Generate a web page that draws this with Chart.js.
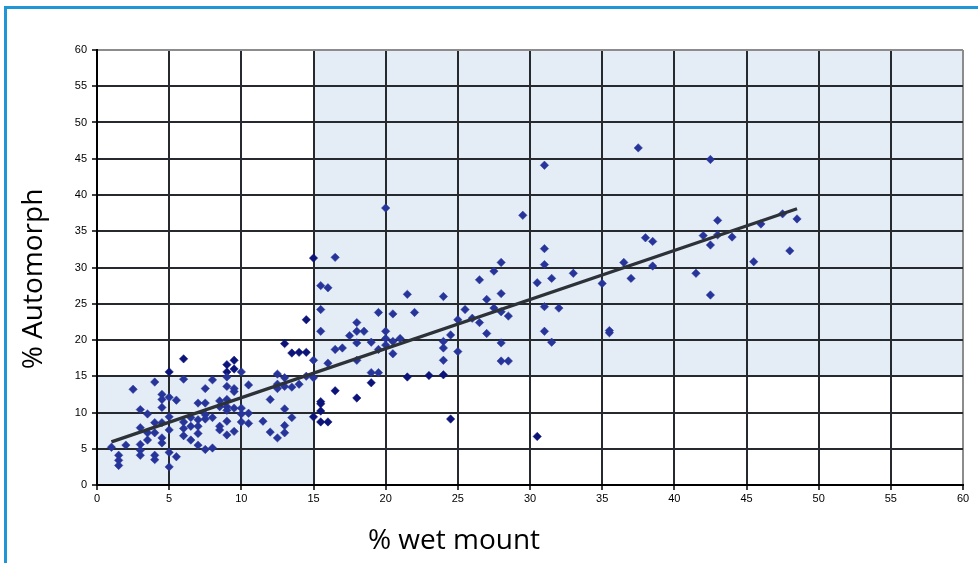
<!DOCTYPE html>
<html>
<head>
<meta charset="utf-8">
<script src="https://cdn.jsdelivr.net/npm/chart.js@4.4.1/dist/chart.umd.min.js"></script>
<style>
  html, body { margin: 0; padding: 0; background: #fff; overflow: hidden; }
  #wrap { position: relative; width: 978px; height: 563px; }
  #marco { position: absolute; left: 4px; top: 6px; width: 1000px; height: 600px; border: 3px solid #2196d6; pointer-events: none; }
</style>
</head>
<body>
<div id="wrap">
  <canvas id="grafico" width="978" height="563"></canvas>
  <div id="marco"></div>
</div>
<script>
// Datos: % wet mount (x) frente a % Automorph (y)
const wetMount = [
  1.0, 1.5, 1.5, 1.5, 2.0, 2.5, 3.0, 3.0, 3.0, 3.0,
  3.0, 3.5, 3.5, 3.5, 4.0, 4.0, 4.0, 4.0, 4.0, 4.5,
  4.5, 4.5, 4.5, 4.5, 4.5, 5.0, 5.0, 5.0, 5.0, 5.0,
  5.5, 5.5, 6.0, 6.0, 6.0, 6.0, 6.5, 6.5, 6.5, 7.0,
  7.0, 7.0, 7.0, 7.0, 7.5, 7.5, 7.5, 7.5, 7.5, 8.0,
  8.0, 8.0, 8.5, 8.5, 8.5, 8.5, 9.0, 9.0, 9.0, 9.0,
  9.0, 9.0, 9.0, 9.5, 9.5, 9.5, 9.5, 10.0, 10.0, 10.0,
  10.0, 10.5, 10.5, 10.5,
  11.5, 12.0, 12.0, 12.5, 12.5, 12.5, 12.5, 13.0, 13.0, 13.0,
  13.0, 13.0, 13.5, 13.5, 14.0, 14.5, 15.0, 15.0, 15.5, 15.5,
  15.5, 16.0, 16.0, 16.5, 16.5, 17.0, 17.5, 18.0, 18.0, 18.0,
  18.0, 18.5, 19.0, 19.0, 19.5, 19.5, 19.5, 20.0, 20.0, 20.0,
  20.0, 20.5, 20.5, 20.5, 21.0, 21.5,
  22.0, 24.0, 24.0, 24.0, 24.0, 24.5, 25.0, 25.0, 25.5, 26.0,
  26.5, 26.5, 27.0, 27.0, 27.5, 27.5, 28.0, 28.0, 28.0, 28.0,
  28.0, 28.5, 28.5, 29.5, 30.5, 31.0, 31.0, 31.0, 31.0, 31.0,
  31.5, 31.5, 32.0, 33.0,
  35.0, 35.5, 35.5, 36.5, 37.0, 37.5, 38.0, 38.5, 38.5, 41.5,
  42.0, 42.5, 42.5, 42.5, 43.0, 43.0, 44.0, 45.5, 46.0, 47.5,
  48.0, 48.5
];
const automorph = [
  5.2, 4.1, 3.4, 2.7, 5.5, 13.2, 10.4, 7.9, 5.6, 4.8,
  4.1, 9.8, 7.2, 6.2, 14.2, 8.6, 7.2, 4.1, 3.5, 12.5,
  11.8, 10.7, 8.6, 6.5, 5.8, 12.1, 9.4, 7.6, 4.5, 2.5,
  11.7, 3.9, 14.6, 8.7, 7.8, 6.8, 9.3, 8.1, 6.2, 11.3,
  9.0, 8.1, 7.1, 5.5, 13.3, 11.3, 9.7, 9.1, 4.9, 14.5,
  9.3, 5.1, 11.6, 10.8, 8.1, 7.6, 14.9, 13.6, 11.8, 10.8,
  10.3, 8.8, 6.9, 13.3, 12.9, 10.6, 7.4, 15.6, 10.6, 9.8,
  8.7, 13.8, 9.9, 8.5,
  8.8, 11.8, 7.3, 15.3, 13.9, 13.3, 6.5, 14.8, 13.6, 10.5,
  8.2, 7.2, 13.5, 9.3, 13.9, 15.0, 14.8, 17.2, 27.5, 24.2,
  21.2, 27.2, 16.8, 31.4, 18.7, 18.9, 20.6, 22.4, 21.2, 19.6,
  17.2, 21.2, 19.7, 15.5, 15.5, 23.8, 18.7, 38.2, 21.2, 20.2,
  19.3, 23.6, 19.8, 18.1, 20.2, 26.3,
  23.8, 26.0, 19.8, 18.9, 17.2, 20.7, 22.8, 18.4, 24.2, 23.0,
  28.3, 22.4, 25.6, 20.9, 29.5, 24.4, 26.4, 30.7, 23.9, 19.6,
  17.1, 23.3, 17.1, 37.2, 27.9, 44.1, 32.6, 30.4, 24.6, 21.2,
  28.5, 19.7, 24.4, 29.2,
  27.8, 21.3, 21.0, 30.7, 28.5, 46.5, 34.1, 33.6, 30.2, 29.2,
  34.4, 44.9, 33.1, 26.2, 34.5, 36.5, 34.2, 30.8, 36.0, 37.4,
  32.3, 36.7
];
// Puntos más oscuros (segunda serie)
const wetMountDark = [
  5.0, 6.0, 9.0, 9.0, 9.5, 9.5, 13.0, 13.5, 14.0, 14.5,
  14.5, 15.0, 15.0, 15.5, 15.5, 15.5, 15.5, 16.0, 16.5, 18.0,
  19.0, 21.5, 23.0, 24.0, 24.5, 30.5
];
const automorphDark = [
  15.6, 17.4, 16.6, 15.6, 17.2, 16.0, 19.5, 18.2, 18.3, 18.3,
  22.8, 31.3, 9.4, 11.5, 11.2, 10.2, 8.7, 8.7, 13.0, 12.0,
  14.1, 14.9, 15.1, 15.2, 9.1, 6.7
];
// Línea de tendencia (extremos)
const trendX = [1.0, 48.5];
const trendY = [5.95, 38.1];

const corte = 15;      // límite de las zonas sombreadas
const ejeMax = 60;

const toPoints = (xs, ys) => xs.map((v, i) => ({ x: v, y: ys[i] }));

// Zonas sombreadas: se dibujan antes de la rejilla
const fondo = {
  id: 'fondo',
  beforeDraw(chart) {
    const { ctx, scales: { x, y } } = chart;
    ctx.save();
    ctx.fillStyle = '#e4ecf6';
    const x0 = x.getPixelForValue(0), xc = x.getPixelForValue(corte), x1 = x.getPixelForValue(ejeMax);
    const y0 = y.getPixelForValue(0), yc = y.getPixelForValue(corte), y1 = y.getPixelForValue(ejeMax);
    ctx.fillRect(xc, y1, x1 - xc, yc - y1);
    ctx.fillRect(x0, yc, xc - x0, y0 - yc);
    ctx.restore();
  },
  // a la derecha del borde del área no debe quedar nada
  afterDraw(chart) {
    const { ctx, chartArea, width } = chart;
    ctx.save();
    ctx.fillStyle = '#fff';
    ctx.fillRect(chartArea.right + 1, chartArea.top - 3, width, chartArea.bottom - chartArea.top + 4);
    ctx.restore();
  }
};

// Títulos de los ejes
const titulos = {
  id: 'titulos',
  afterDraw(chart) {
    const ctx = chart.ctx;
    ctx.save();
    ctx.fillStyle = '#000';
    ctx.font = '28px "Open Sans", sans-serif';
    ctx.textAlign = 'center';
    ctx.textBaseline = 'alphabetic';
    ctx.fillText('% wet mount', 454, 549);
    ctx.translate(42, 279);
    ctx.rotate(-Math.PI / 2);
    ctx.fillText('% Automorph', 0, 0);
    ctx.restore();
  }
};

const colorRejilla = (c) => (c.tick && c.tick.value === ejeMax) ? '#8c8c8c' : '#26292d';
const fuenteTicks = { family: '"Liberation Sans", Arial, sans-serif', size: 11 };

new Chart(document.getElementById('grafico').getContext('2d'), {
  type: 'scatter',
  data: {
    datasets: [
      {
        type: 'line',
        data: toPoints(trendX, trendY),
        borderColor: '#2d3238',
        borderWidth: 3.2,
        pointRadius: 0,
        fill: false,
        order: 0
      },
      {
        data: toPoints(wetMount, automorph),
        pointStyle: 'rectRot',
        pointRadius: 4.2,
        backgroundColor: '#27359a',
        borderColor: '#27359a',
        borderWidth: 0.5,
        order: 1
      },
      {
        data: toPoints(wetMountDark, automorphDark),
        pointStyle: 'rectRot',
        pointRadius: 4.2,
        backgroundColor: '#0c1479',
        borderColor: '#0c1479',
        borderWidth: 0.5,
        order: 2
      }
    ]
  },
  options: {
    responsive: false,
    animation: false,
    devicePixelRatio: 1,
    layout: { padding: { top: 50, right: 15, left: 0, bottom: 0 } },
    plugins: { legend: { display: false }, tooltip: { enabled: false } },
    scales: {
      x: {
        type: 'linear',
        min: 0, max: ejeMax,
        afterFit: (s) => { s.height = 78; },
        ticks: { stepSize: 5, color: '#000', font: fuenteTicks, padding: 2, maxRotation: 0 },
        grid: { color: colorRejilla, lineWidth: 2, tickLength: 5, tickColor: '#000', tickWidth: 1.5 },
        border: { color: '#000', width: 2 }
      },
      y: {
        type: 'linear',
        min: 0, max: ejeMax,
        afterFit: (s) => { s.width = 97; },
        ticks: { stepSize: 5, color: '#000', font: fuenteTicks, padding: 5 },
        grid: { color: colorRejilla, lineWidth: 2, tickLength: 5, tickColor: '#000', tickWidth: 1.5 },
        border: { color: '#000', width: 2 }
      }
    }
  },
  plugins: [fondo, titulos]
});
</script>
</body>
</html>
